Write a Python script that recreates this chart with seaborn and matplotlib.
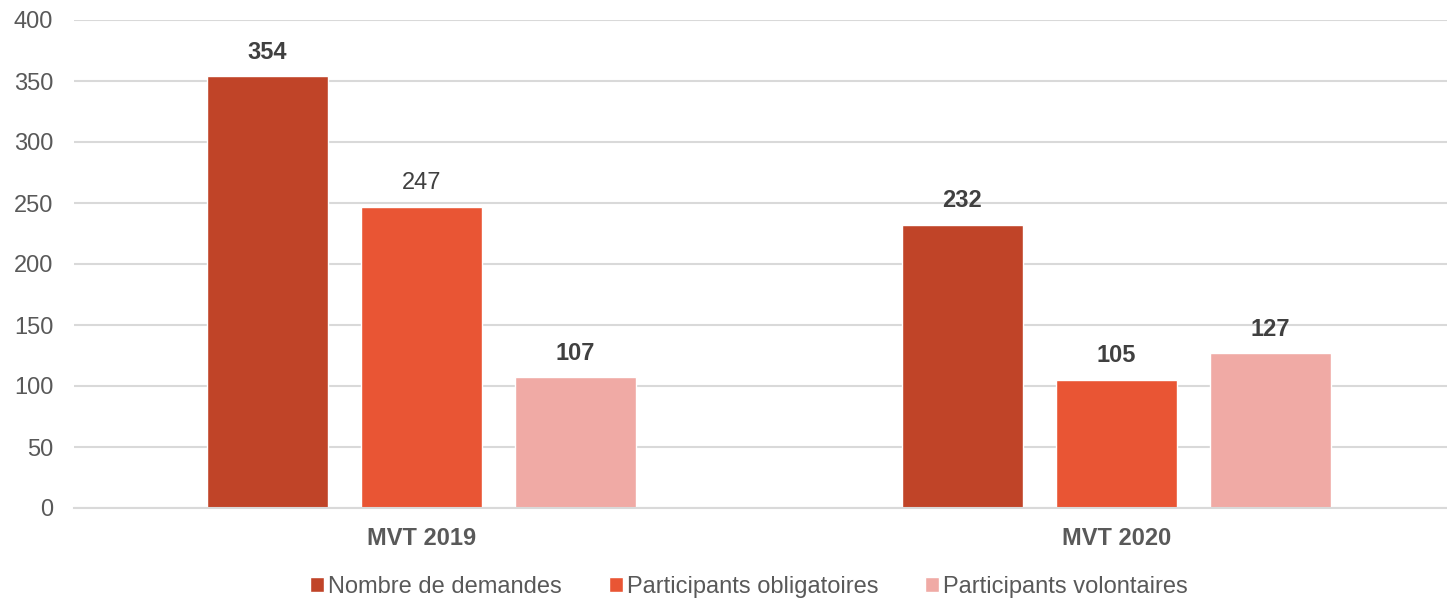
import pandas as pd
import matplotlib
matplotlib.use("Agg")
import matplotlib.pyplot as plt
import seaborn as sns

# data
groupes = ["MVT 2019", "MVT 2020"]
series = ["Nombre de demandes", "Participants obligatoires", "Participants volontaires"]
demandes = [354, 232]
obligatoires = [247, 105]
volontaires = [107, 127]
couleurs = ["#C04428", "#E95534", "#F0AAA5"]

rows = []
for i, g in enumerate(groupes):
    rows.append((g, series[0], demandes[i]))
    rows.append((g, series[1], obligatoires[i]))
    rows.append((g, series[2], volontaires[i]))
df = pd.DataFrame(rows, columns=["groupe", "serie", "valeur"])

sns.set_style("white")
plt.rcParams["font.family"] = ["Liberation Sans", "DejaVu Sans"]

fig = plt.figure(figsize=(14.47, 5.98), dpi=100)
ax = fig.add_axes([74 / 1447, 1 - 508 / 598, 1 - 74 / 1447, (508 - 20) / 598])

sns.barplot(data=df, x="groupe", y="valeur", hue="serie", hue_order=series,
            palette=couleurs, width=0.665, gap=0.214, saturation=1,
            ax=ax, legend=True)

ax.set_ylim(0, 400)
ax.set_xlim(-0.5, 1.476)
ax.set_yticks(range(0, 401, 50))
ax.yaxis.grid(True, color="#D9D9D9", linewidth=1.5)
ax.set_axisbelow(True)
for s in ["top", "right", "left"]:
    ax.spines[s].set_visible(False)
ax.spines["bottom"].set_color("#D9D9D9")
ax.spines["bottom"].set_linewidth(1.5)
ax.set_xlabel("")
ax.set_ylabel("")
ax.tick_params(axis="y", length=0, pad=15, labelsize=17, labelcolor="#595959")
ax.tick_params(axis="x", length=0, pad=14, labelsize=17, labelcolor="#595959")
for t in ax.get_xticklabels():
    t.set_fontweight("bold")

# data labels (247 is not bold in the reference)
for cont in ax.containers:
    for bar in cont:
        v = bar.get_height()
        ax.annotate(f"{v:.0f}", (bar.get_x() + bar.get_width() / 2, v),
                    xytext=(0, 9), textcoords="offset points",
                    ha="center", va="bottom", fontsize=17,
                    fontweight="normal" if v == 247 else "bold",
                    color="#404040")

handles, labels = ax.get_legend_handles_labels()
ax.get_legend().remove()
fig.legend(handles, labels, loc="center", bbox_to_anchor=(749 / 1447, 1 - 587 / 598),
           ncol=3, frameon=False, fontsize=17, handlelength=0.6, handleheight=0.6,
           handletextpad=0.15, columnspacing=2.0, labelcolor="#595959")

fig.savefig("out.png", dpi=100)
